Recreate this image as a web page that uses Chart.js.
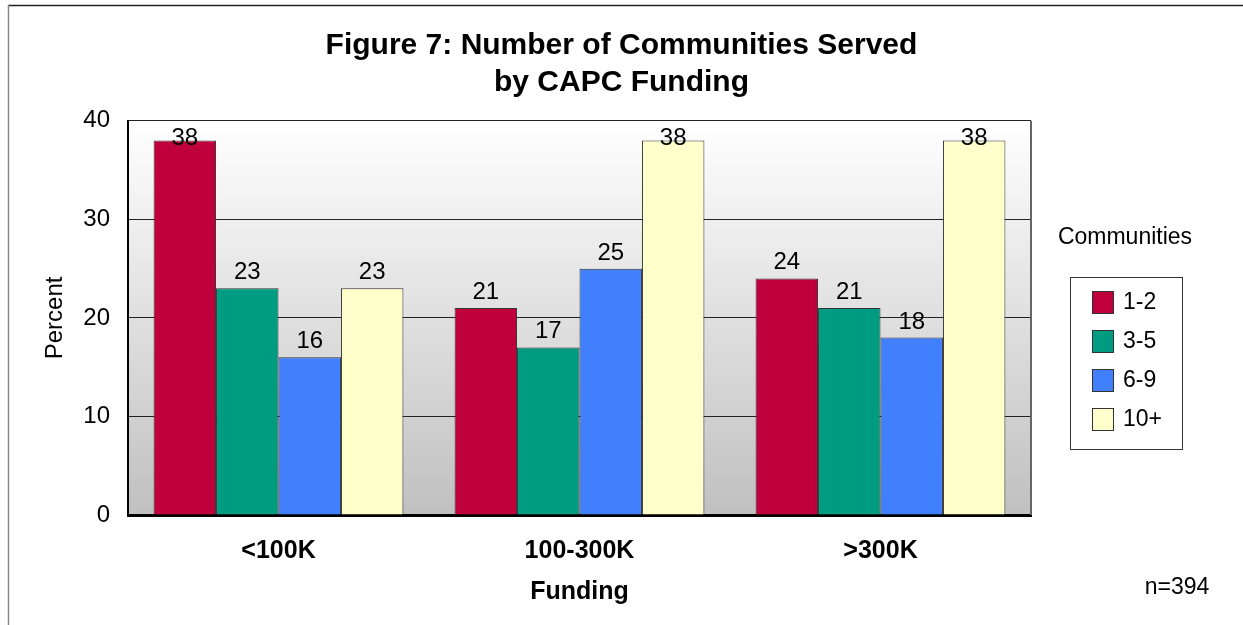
<!doctype html>
<html lang="en">
<head>
<meta charset="utf-8">
<title>Number of Communities Served by CAPC Funding</title>
<script src="https://cdn.jsdelivr.net/npm/chart.js"></script>
<style>
html, body { margin: 0; padding: 0; background: #fff; }
#wrap { width: 1243px; height: 625px; }
</style>
<script>
// funding groups on the x axis
const fundingLabels = ['<100K', '100-300K', '>300K'];
// percent of projects, one array per number of communities
const comm12 = [38, 21, 24];
const comm35 = [23, 17, 21];
const comm69 = [16, 25, 18];
const comm10 = [23, 38, 38];
const seriesNames = ['1-2', '3-5', '6-9', '10+'];
const seriesColors = ['#C0003C', '#009C82', '#4080FF', '#FFFFCC'];
const yTicks = [0, 10, 20, 30, 40];
const sampleNote = 'n=394';
const legendTitle = 'Communities';

const FONT = "'Liberation Sans', Arial, sans-serif";
</script>
</head>
<body>
<div id="wrap"><canvas id="myChart" width="1243" height="625"></canvas></div>

<script>
// gray gradient behind the bars + outer frame
const backdrop = {
	id: 'backdrop',
	beforeDraw(chart) {
		const ctx = chart.ctx, a = chart.chartArea;
		ctx.save();
		const g = ctx.createLinearGradient(0, a.top, 0, a.bottom);
		g.addColorStop(0, '#ffffff');
		g.addColorStop(1, '#c0c0c0');
		ctx.fillStyle = g;
		ctx.fillRect(a.left, a.top, a.right - a.left, a.bottom - a.top);
		// frame lines top and left
		ctx.strokeStyle = '#222';
		ctx.lineWidth = 1.5;
		ctx.beginPath();
		ctx.moveTo(8, 5.5);
		ctx.lineTo(1243, 5.5);
		ctx.stroke();
		ctx.strokeStyle = '#888';
		ctx.beginPath();
		ctx.moveTo(8.5, 5);
		ctx.lineTo(8.5, 625);
		ctx.stroke();
		ctx.restore();
	},
	afterDraw(chart) {
		const ctx = chart.ctx, a = chart.chartArea;
		ctx.save();
		// right edge of plot
		ctx.strokeStyle = '#666';
		ctx.lineWidth = 2;
		ctx.beginPath();
		ctx.moveTo(a.right, a.top);
		ctx.lineTo(a.right, a.bottom);
		ctx.stroke();

		// legend box
		ctx.font = '23px ' + FONT;
		ctx.fillStyle = '#000';
		ctx.textAlign = 'center';
		ctx.textBaseline = 'middle';
		ctx.fillText(legendTitle, 1125, 238);
		ctx.strokeStyle = '#333';
		ctx.lineWidth = 1;
		ctx.strokeRect(1070.5, 277.5, 112, 172);
		ctx.textAlign = 'left';
		chart.data.datasets.forEach(function(ds, i) {
			let top = 291 + i * 39;
			ctx.fillStyle = ds.backgroundColor;
			ctx.fillRect(1092, top, 21, 22);
			ctx.strokeStyle = '#333';
			ctx.strokeRect(1092.5, top + 0.5, 21, 22);
			ctx.fillStyle = '#000';
			ctx.fillText(ds.label, 1123, top + 12);
		});

		// sample size
		ctx.textAlign = 'center';
		ctx.fillText(sampleNote, 1177, 588);
		ctx.restore();
	}
};

// value above each bar, kept inside the plot
const barValues = {
	id: 'barValues',
	afterDatasetsDraw(chart) {
		const ctx = chart.ctx, a = chart.chartArea;
		ctx.save();
		ctx.font = '24px ' + FONT;
		ctx.fillStyle = '#000';
		ctx.textAlign = 'center';
		ctx.textBaseline = 'alphabetic';
		chart.data.datasets.forEach(function(ds, i) {
			chart.getDatasetMeta(i).data.forEach(function(bar, j) {
				let y = Math.max(bar.y - 9, a.top + 24);
				ctx.fillText(String(ds.data[j]), bar.x, y);
			});
		});
		ctx.restore();
	}
};

const datasets = [comm12, comm35, comm69, comm10].map(function(vals, i) {
	return {
		label: seriesNames[i],
		data: vals,
		backgroundColor: seriesColors[i],
		borderColor: '#333',
		borderWidth: 1,
		categoryPercentage: 0.83,
		barPercentage: 1.0
	};
});

const config = {
	type: 'bar',
	data: { labels: fundingLabels, datasets: datasets },
	plugins: [backdrop, barValues],
	options: {
		responsive: false,
		animation: false,
		layout: { padding: { top: 5, right: 0, left: 0, bottom: 0 } },
		plugins: {
			legend: { display: false },
			tooltip: { enabled: false },
			title: {
				display: true,
				text: ['Figure 7: Number of Communities Served', 'by CAPC Funding'],
				color: '#000',
				font: { family: FONT, size: 30, weight: 'bold', lineHeight: 1.23 },
				padding: { top: 22, bottom: 20 }
			}
		},
		scales: {
			x: {
				grid: { display: false },
				border: { display: true, color: '#000', width: 3 },
				ticks: {
					color: '#000',
					padding: 13,
					font: { family: FONT, size: 25, weight: 'bold' }
				},
				title: {
					display: true,
					text: 'Funding',
					color: '#000',
					font: { family: FONT, size: 25, weight: 'bold', lineHeight: 1.2 },
					padding: { top: 0, bottom: 18 }
				},
				afterFit(scale) { scale.height = 110; }
			},
			y: {
				min: 0,
				max: 40,
				afterBuildTicks(scale) { scale.ticks = yTicks.map(v => ({ value: v })); },
				grid: { color: '#222', lineWidth: 1, drawTicks: false },
				border: { display: true, color: '#000', width: 2 },
				ticks: {
					color: '#000',
					padding: 18,
					font: { family: FONT, size: 24 }
				},
				title: {
					display: true,
					text: 'Percent',
					color: '#000',
					font: { family: FONT, size: 24, lineHeight: 1.2 },
					padding: { top: 41, bottom: 0 }
				},
				afterFit(scale) { scale.width = 128; }
			},
			// empty right-hand axis that leaves room for the legend
			side: {
				axis: 'y',
				position: 'right',
				min: 0,
				max: 40,
				grid: { display: false, drawTicks: false },
				border: { display: false },
				ticks: { display: false },
				afterFit(scale) { scale.width = 212; }
			}
		}
	}
};

new Chart(document.getElementById('myChart'), config);
</script>
</body>
</html>
